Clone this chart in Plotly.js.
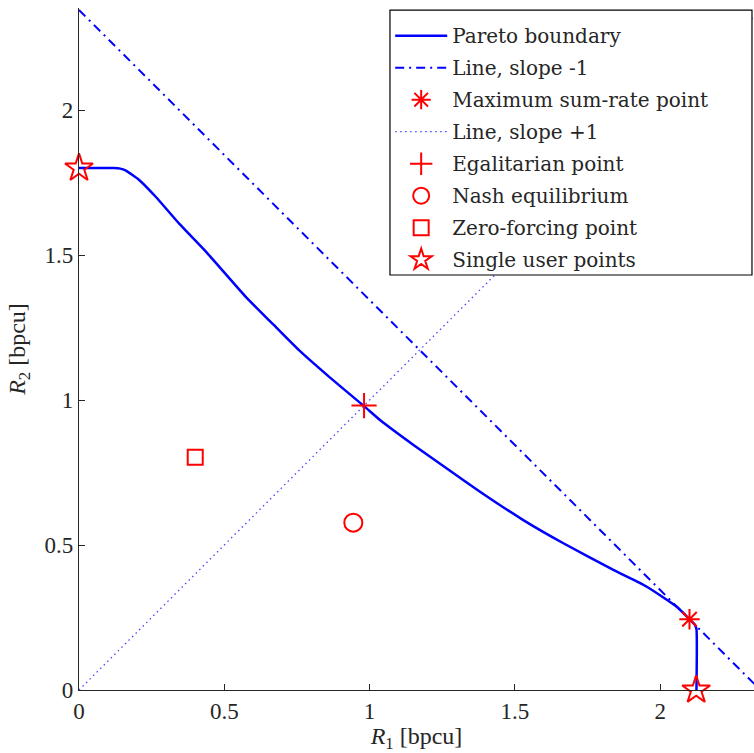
<!DOCTYPE html>
<html>
<head>
<meta charset="utf-8">
<script src="https://cdn.plot.ly/plotly-3.0.1.min.js"></script>
<style>html,body{margin:0;padding:0;background:#fff;}#chart{width:754px;height:753px;}</style>
</head>
<body>
<div id="chart"></div>
<script>
// Pareto boundary (R1, R2) in bpcu
const paretoR1 = [0, 0.120, 0.142, 0.160, 0.207, 0.264, 0.344, 0.442, 0.574, 0.665, 0.757, 0.861, 0.981, 1.036, 1.151, 1.266, 1.380, 1.529, 1.667, 1.839, 1.954, 2.057, 2.101, 2.120, 2.125, 2.125];
const paretoR2 = [1.800, 1.800, 1.798, 1.792, 1.759, 1.701, 1.609, 1.506, 1.356, 1.264, 1.172, 1.080, 0.979, 0.931, 0.845, 0.764, 0.684, 0.586, 0.506, 0.414, 0.356, 0.287, 0.244, 0.224, 0.210, 0.000];
// Line with slope -1 through the max sum-rate point
const slopeNegR1 = [0, 2.345];
const slopeNegR2 = [2.345, 0];
// Line with slope +1
const slopePosR1 = [0, 2.4];
const slopePosR2 = [0, 2.4];
// Special points
const maxSumR1 = [2.101], maxSumR2 = [0.244];
const egalR1 = [0.981], egalR2 = [0.981];
const nashR1 = [0.944], nashR2 = [0.577];
const zfR1 = [0.400], zfR2 = [0.803];
const singleR1 = [0, 2.124], singleR2 = [1.80, 0];
const xTicks = [0, 0.5, 1, 1.5, 2];
const yTicks = [0, 0.5, 1, 1.5, 2];

const red = 'rgb(255,0,0)';
const blue = 'rgb(0,0,255)';
const FONT = 'Liberation Serif';
const LFONT = 'DejaVu Serif';

const traces = [
  {x: paretoR1, y: paretoR2, mode: 'lines', name: 'Pareto boundary', legendgroup: 'a',
   line: {color: blue, width: 2.5, shape: 'spline', smoothing: 0.5}},
  {x: slopeNegR1, y: slopeNegR2, mode: 'lines', name: 'Line, slope -1', legendgroup: 'b',
   line: {color: blue, width: 2, dash: '9px,5px,2px,5px'}},
  {x: maxSumR1, y: maxSumR2, mode: 'markers', name: 'Maximum sum-rate point', legendgroup: 'c', cliponaxis: false,
   marker: {symbol: 'asterisk-open', size: 17, color: red, line: {color: red, width: 2}}},
  {x: slopePosR1, y: slopePosR2, mode: 'lines', name: 'Line, slope +1', legendgroup: 'd',
   line: {color: 'rgb(70,70,255)', width: 1.3, dash: '1.5px,3.5px'}},
  {x: egalR1, y: egalR2, mode: 'markers', name: 'Egalitarian point', legendgroup: 'e', cliponaxis: false,
   marker: {symbol: 'cross-thin-open', size: 18, color: red, line: {color: red, width: 2}}},
  {x: nashR1, y: nashR2, mode: 'markers', name: 'Nash equilibrium', legendgroup: 'f', cliponaxis: false,
   marker: {symbol: 'circle-open', size: 18, color: red, line: {color: red, width: 2}}},
  {x: zfR1, y: zfR2, mode: 'markers', name: 'Zero-forcing point', legendgroup: 'g', cliponaxis: false,
   marker: {symbol: 'square-open', size: 15, color: red, line: {color: red, width: 2}}},
  {x: singleR1, y: singleR2, mode: 'markers', name: 'Single user points', legendgroup: 'h', cliponaxis: false,
   marker: {symbol: 'star-open', size: 21, color: red, line: {color: red, width: 2}}}
];

const layout = {
  width: 754, height: 753,
  margin: {l: 79, r: 0, t: 8, b: 63},
  paper_bgcolor: '#fff', plot_bgcolor: '#fff',
  font: {family: FONT, size: 22, color: '#262626'},
  showlegend: true,
  legend: {
    x: 0.461, y: 0.988, xanchor: 'left', yanchor: 'top',
    bgcolor: 'rgba(0,0,0,0)', borderwidth: 0,
    font: {family: LFONT, size: 20, color: '#262626'},
    traceorder: 'grouped', tracegroupgap: 3, itemwidth: 52
  },
  shapes: [
    {type: 'rect', xref: 'paper', yref: 'paper', x0: 0.4607, x1: 0.997, y0: 0.6085, y1: 0.997,
     fillcolor: '#fff', line: {color: '#000', width: 1.2}, layer: 'above'}
  ],
  xaxis: {
    range: [0, 2.323], tickvals: xTicks, ticktext: xTicks.map(String),
    showgrid: false, zeroline: false, showline: true, linecolor: '#262626', linewidth: 1.2,
    ticks: 'inside', ticklen: 6, tickcolor: '#262626', mirror: false,
    tickfont: {family: FONT, size: 23, color: '#262626'},
    title: {text: '<i>R</i><sub>1</sub> [bpcu]', font: {family: FONT, size: 24, color: '#262626'}, standoff: 8}
  },
  yaxis: {
    range: [0, 2.352], tickvals: yTicks, ticktext: yTicks.map(String),
    showgrid: false, zeroline: false, showline: true, linecolor: '#262626', linewidth: 1.2,
    ticks: 'inside', ticklen: 6, tickcolor: '#262626', mirror: false,
    tickfont: {family: FONT, size: 23, color: '#262626'},
    title: {text: '<i>R</i><sub>2</sub> [bpcu]', font: {family: FONT, size: 24, color: '#262626'}, standoff: 12}
  }
};

Plotly.newPlot('chart', traces, layout, {displayModeBar: false, staticPlot: true});
</script>
</body>
</html>
